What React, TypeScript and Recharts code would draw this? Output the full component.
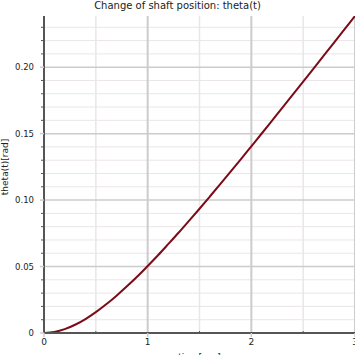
import React from "react";
import { LineChart, Line, XAxis, YAxis, ReferenceLine } from "recharts";

const timeValues = [0, 0.1, 0.2, 0.3, 0.4, 0.5, 0.6, 0.7, 0.8, 0.9, 1.0, 1.1, 1.2, 1.3, 1.4, 1.5, 1.6, 1.7, 1.8, 1.9, 2.0, 2.1, 2.2, 2.3, 2.4, 2.5, 2.6, 2.7, 2.8, 2.9, 3.0];
const thetaValues = [0, 0.0008, 0.0029, 0.0062, 0.0105, 0.0157, 0.0216, 0.0281, 0.0351, 0.0425, 0.0504, 0.0585, 0.067, 0.0756, 0.0845, 0.0935, 0.1027, 0.112, 0.1214, 0.1309, 0.1405, 0.1501, 0.1598, 0.1695, 0.1793, 0.1891, 0.1989, 0.2088, 0.2187, 0.2286, 0.2385];

const xMajorTicks = [0, 1, 2, 3];
const xMinorTicks = [0.5, 1.5, 2.5];
const xTickLabels = ["0", "1", "2", "3"];
const yMajorTicks = [0, 0.05, 0.1, 0.15, 0.2];
const yTickLabels = ["0", "0.05", "0.10", "0.15", "0.20"];
const yMinorTicks = [0.01, 0.02, 0.03, 0.04, 0.06, 0.07, 0.08, 0.09, 0.11, 0.12, 0.13, 0.14, 0.16, 0.17, 0.18, 0.19, 0.21, 0.22, 0.23];

const title = "Change of shaft position: theta(t)";
const xLabel = "time[sec]";
const yLabel = "theta(t)[rad]";

const data = timeValues.map((t, i) => ({ t, theta: thetaValues[i] }));

const FONT = "'DejaVu Sans', sans-serif";
const AXIS = "#555555";
const MAJOR_GRID = "#cccccc";
const MINOR_GRID = "#ebe5e7";

const XTick = (props: any) => {
  const { x, y, payload } = props;
  const v = payload.value;
  const idx = xMajorTicks.indexOf(v);
  if (idx >= 0) {
    return (
      <g>
        <line x1={x} x2={x} y1={y} y2={y + 4} stroke={MAJOR_GRID} strokeWidth={1.5} />
        <text x={x} y={y + 12} textAnchor="middle" fontSize={9} fontFamily={FONT} fill="#222">
          {xTickLabels[idx]}
        </text>
      </g>
    );
  }
  return <line x1={x} x2={x} y1={y - 2} y2={y + 1} stroke={AXIS} strokeWidth={1} />;
};

const YTick = (props: any) => {
  const { x, y, payload } = props;
  const v = payload.value;
  const idx = yMajorTicks.findIndex((m) => Math.abs(m - v) < 1e-9);
  if (idx >= 0) {
    return (
      <g>
        <line x1={x - 4} x2={x} y1={y} y2={y} stroke={MAJOR_GRID} strokeWidth={1.5} />
        <text x={x - 10} y={y + 3} textAnchor="end" fontSize={8.5} fontFamily={FONT} fill="#222">
          {yTickLabels[idx]}
        </text>
      </g>
    );
  }
  return <line x1={x - 3} x2={x} y1={y} y2={y} stroke={AXIS} strokeWidth={1} />;
};

export default function App() {
  const yTicksAll = [...yMajorTicks, ...yMinorTicks].sort((a, b) => a - b);
  const xTicksAll = [...xMajorTicks, ...xMinorTicks].sort((a, b) => a - b);
  return (
    <div style={{ position: "absolute", left: 0, top: 0, width: 355, height: 355, background: "#fff", overflow: "hidden" }}>
      <div
        style={{
          position: "absolute",
          left: 0,
          top: 0,
          width: 355,
          textAlign: "center",
          fontFamily: FONT,
          fontSize: 10,
          lineHeight: "12px",
          color: "#222",
        }}
      >
        {title}
      </div>
      <div
        style={{
          position: "absolute",
          left: 5,
          top: 167,
          width: 0,
          height: 0,
        }}
      >
        <div
          style={{
            position: "absolute",
            left: -50,
            top: -6,
            width: 100,
            height: 12,
            lineHeight: "12px",
            textAlign: "center",
            transform: "rotate(-90deg)",
            fontFamily: FONT,
            fontSize: 9,
            color: "#222",
            whiteSpace: "nowrap",
          }}
        >
          {yLabel}
        </div>
      </div>
      <LineChart width={355} height={355} data={data} margin={{ top: 16, right: 0, bottom: 0, left: 0 }}>
        {yMinorTicks.map((v) => (
          <ReferenceLine key={"ym" + v} y={v} stroke={MINOR_GRID} strokeWidth={1} />
        ))}
        {xMinorTicks.map((v) => (
          <ReferenceLine key={"xm" + v} x={v} stroke={MINOR_GRID} strokeWidth={1.5} />
        ))}
        {yMajorTicks.map((v) => (
          <ReferenceLine key={"yM" + v} y={v} stroke={MAJOR_GRID} strokeWidth={1.5} />
        ))}
        {xMajorTicks.map((v) => (
          <ReferenceLine key={"xM" + v} x={v} stroke={MAJOR_GRID} strokeWidth={2} />
        ))}
        <XAxis
          dataKey="t"
          type="number"
          domain={[0, 3]}
          ticks={xTicksAll}
          interval={0}
          height={22}
          tickSize={0}
          tickMargin={0}
          tickLine={false}
          tick={<XTick />}
          axisLine={{ stroke: AXIS, strokeWidth: 2 }}
          allowDataOverflow
          label={{ value: xLabel, position: "insideBottom", offset: -5, fontSize: 9, fontFamily: FONT, fill: "#222" }}
        />
        <YAxis
          type="number"
          domain={[0, 0.2385]}
          ticks={yTicksAll}
          interval={0}
          width={44}
          tickSize={0}
          tickMargin={0}
          tickLine={false}
          tick={<YTick />}
          axisLine={{ stroke: AXIS, strokeWidth: 2 }}
          allowDataOverflow
        />
        <Line
          dataKey="theta"
          type="monotone"
          stroke="#7a0b17"
          strokeWidth={2}
          dot={false}
          isAnimationActive={false}
        />
      </LineChart>
    </div>
  );
}
